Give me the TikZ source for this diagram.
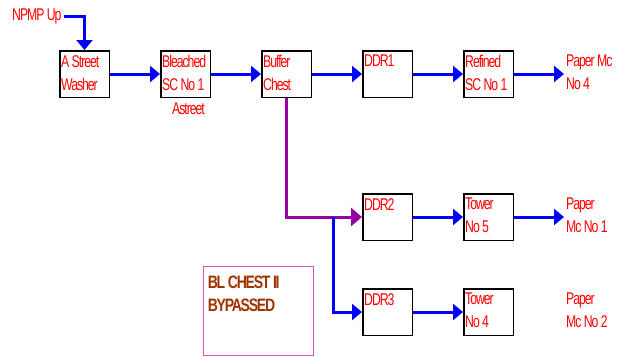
\documentclass[tikz,border=0pt]{standalone}
\usepackage{fontspec}
\usetikzlibrary{arrows.meta,positioning}
\newfontfamily\millfont[FakeStretch=0.72,LetterSpace=-6]{Liberation Sans}
\newfontfamily\notefont[FakeStretch=0.78,LetterSpace=-7]{Liberation Sans}
\definecolor{flowblue}{RGB}{0,0,255}
\definecolor{flowred}{RGB}{255,0,0}
\definecolor{bypurple}{RGB}{150,0,160}
\definecolor{notebrown}{RGB}{160,50,0}
\definecolor{notepink}{RGB}{220,80,200}
\tikzset{
  unit/.style={draw=black,line width=1.5pt,fill=white,minimum width=49.5pt,minimum height=46.5pt,inner sep=0pt},
  utxt/.style={anchor=north west,text=flowred,font=\millfont\fontsize{17}{23}\selectfont,align=left,inner xsep=2pt,inner ysep=5pt},
  flow/.style={-{Triangle[length=10pt,width=16pt]},draw=flowblue,line width=3pt},
  byp/.style={-{Triangle[length=11pt,width=18pt]},draw=bypurple,line width=3pt},
  notebox/.style={draw=notepink,line width=0.8pt,minimum width=110pt,minimum height=89pt},
  ntxt/.style={anchor=north west,text=notebrown,font=\notefont\bfseries\fontsize{18}{23}\selectfont,align=left,inner xsep=5pt,inner ysep=10pt}
}
\begin{document}
\begin{tikzpicture}[x=1pt,y=-1pt,node distance=50pt]
  \useasboundingbox (0,0) rectangle (636,356);

  % main line
  \node[unit] (wash) at (84.5,74) {};
  \node[unit,right=of wash] (bleach) {};
  \node[unit,right=of bleach] (buffer) {};
  \node[unit,right=of buffer] (ddr1) {};
  \node[unit,right=of ddr1] (refined) {};
  % bypass line
  \node[unit,below=95pt of ddr1] (ddr2) {};
  \node[unit,below=47pt of ddr2] (ddr3) {};
  \node[unit,right=of ddr2] (tower5) {};
  \node[unit,right=of ddr3] (tower4) {};

  \node[utxt] (washt) at (wash.north west) {A Street\\Washer};
  \node[utxt] (bleacht) at (bleach.north west) {Bleached\\SC No 1};
  \node[utxt,anchor=north,xshift=3pt] (astreet) at (bleach.south) {Astreet};
  \node[utxt] (buffert) at (buffer.north west) {Buffer\\Chest};
  \node[utxt] (ddr1t) at (ddr1.north west) {DDR1};
  \node[utxt] (refinedt) at (refined.north west) {Refined\\SC No 1};
  \node[utxt] (ddr2t) at (ddr2.north west) {DDR2};
  \node[utxt] (ddr3t) at (ddr3.north west) {DDR3};
  \node[utxt] (tower5t) at (tower5.north west) {Tower\\No 5};
  \node[utxt] (tower4t) at (tower4.north west) {Tower\\No 4};

  \node[utxt] (npmp) at (10,4) {NPMP Up};
  \node[utxt,right=50pt of refined.north east,anchor=north west] (pm4) {Paper Mc\\No 4};
  \node[utxt,right=50pt of tower5.north east,anchor=north west] (pm1) {Paper\\Mc No 1};
  \node[utxt,right=50pt of tower4.north east,anchor=north west] (pm2) {Paper\\Mc No 2};

  \node[notebox] (bypass) at (258,310.5) {};
  \node[ntxt] (bypasst) at (bypass.north west) {BL CHEST II\\BYPASSED};

  \draw[flow] (npmp.east) -| (wash.north);
  \draw[flow] (wash) -- (bleach);
  \draw[flow] (bleach) -- (buffer);
  \draw[flow] (buffer) -- (ddr1);
  \draw[flow] (ddr1) -- (refined);
  \draw[flow] (refined.east) -- (refined.east -| pm4.west);

  \draw[byp] (buffer.south) |- (ddr2.west);
  \coordinate[left=29pt of ddr2.west] (split);
  \draw[flow] (split) |- (ddr3.west);
  \draw[flow] (ddr2) -- (tower5);
  \draw[flow] (tower5.east) -- (tower5.east -| pm1.west);
  \draw[flow] (ddr3) -- (tower4);
\end{tikzpicture}
\end{document}
